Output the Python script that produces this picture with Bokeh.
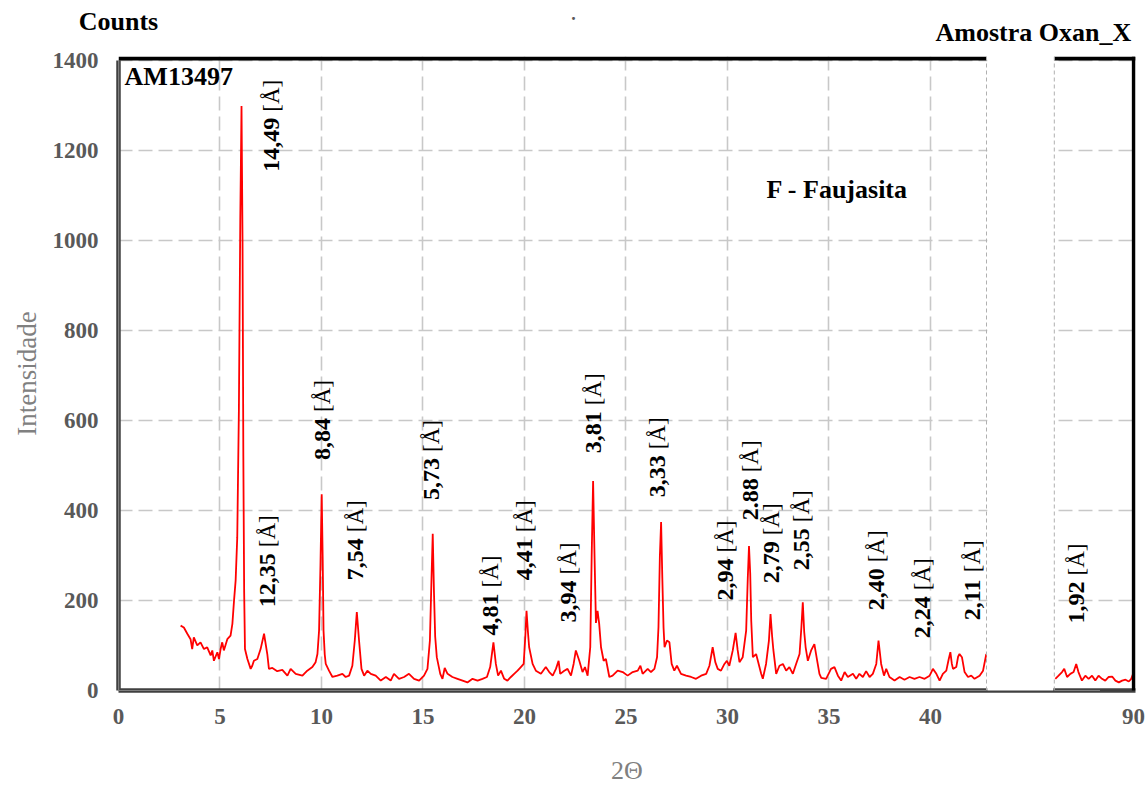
import numpy as np
from bokeh.plotting import figure
from bokeh.models import (Range1d, FixedTicker, BoxAnnotation, Label, ColumnDataSource, Span,
                          LinearAxis)
from bokeh.core.properties import value
from bokeh.embed import file_html
from bokeh.resources import INLINE

FONT = "Liberation Serif"

# ---- data ----
two_theta_low = [3.06, 3.22, 3.39, 3.55, 3.63, 3.71, 3.88, 4.04, 4.21, 4.37, 4.54, 4.62, 4.70, 4.87, 4.95,
                 5.03, 5.11, 5.19, 5.36, 5.52, 5.61, 5.69, 5.77, 5.85, 5.93, 6.00, 6.06, 6.11, 6.15, 6.19,
                 6.23, 6.35, 6.51, 6.59, 6.67, 6.84, 7.00, 7.17, 7.33, 7.41, 7.58, 7.82, 8.07, 8.32, 8.48,
                 8.73, 9.06, 9.30, 9.55, 9.71, 9.80, 9.88, 9.95, 10.01, 10.06, 10.10, 10.16, 10.21, 10.37,
                 10.54, 10.78, 11.03, 11.19, 11.36, 11.52, 11.64, 11.74, 11.85, 11.97, 12.10, 12.26, 12.43,
                 12.67, 12.92, 13.17, 13.41, 13.57, 13.82, 14.07, 14.31, 14.56, 14.81, 15.05, 15.22, 15.34,
                 15.42, 15.48, 15.54, 15.60, 15.68, 15.85, 15.96, 16.07, 16.21, 16.45, 16.70, 16.95, 17.19,
                 17.44, 17.69, 17.93, 18.15, 18.31, 18.47, 18.59, 18.70, 18.84, 19.00, 19.16, 19.33, 19.49,
                 19.66, 19.82, 19.96, 20.04, 20.10, 20.17, 20.23, 20.40, 20.56, 20.81, 21.05, 21.22, 21.39,
                 21.55, 21.68, 21.76, 21.96, 22.12, 22.29, 22.42, 22.53, 22.70, 22.86, 22.98, 23.11, 23.24,
                 23.31, 23.38, 23.45, 23.52, 23.60, 23.68, 23.77, 23.90, 24.01, 24.18, 24.34, 24.59, 24.84,
                 25.08, 25.33, 25.58, 25.71, 25.82, 26.07, 26.23, 26.40, 26.53, 26.60, 26.67, 26.73, 26.79,
                 26.85, 26.90, 27.02, 27.14, 27.25, 27.38, 27.51, 27.71, 27.96, 28.21, 28.45, 28.70, 28.95,
                 29.11, 29.27, 29.40, 29.52, 29.68, 29.85, 29.97, 30.09, 30.26, 30.40, 30.50, 30.59, 30.75,
                 30.92, 31.00, 31.06, 31.12, 31.17, 31.25, 31.41, 31.66, 31.74, 31.90, 32.04, 32.12, 32.20,
                 32.26, 32.40, 32.56, 32.73, 32.89, 33.05, 33.22, 33.38, 33.55, 33.64, 33.71, 33.78, 33.85,
                 33.96, 34.12, 34.28, 34.42, 34.53, 34.62, 34.86, 35.10, 35.27, 35.44, 35.60, 35.77, 35.93,
                 36.18, 36.34, 36.50, 36.67, 36.83, 37.00, 37.16, 37.33, 37.44, 37.57, 37.71, 37.82, 37.98,
                 38.23, 38.48, 38.72, 38.97, 39.21, 39.46, 39.71, 39.96, 40.12, 40.29, 40.45, 40.61, 40.78,
                 40.90, 40.98, 41.05, 41.11, 41.27, 41.36, 41.43, 41.55, 41.68, 41.85, 42.01, 42.17, 42.42,
                 42.59, 42.75]
counts_low = [144, 140, 126, 114, 92, 118, 100, 107, 92, 96, 78, 89, 66, 85, 70,
              92, 107, 89, 114, 122, 148, 199, 244, 340, 620, 1050, 1298, 1000, 520, 220,
              92, 70, 48, 55, 66, 70, 92, 126, 81, 48, 50, 43, 46, 33, 48,
              37, 33, 44, 52, 63, 81, 133, 280, 436, 290, 133, 80, 59, 44,
              30, 33, 37, 30, 33, 55, 111, 174, 111, 48, 33, 44, 37,
              33, 22, 30, 22, 37, 26, 30, 37, 26, 22, 33, 48, 111,
              250, 348, 220, 120, 74, 37, 26, 50, 37, 30, 26, 22, 18,
              26, 22, 26, 30, 52, 107, 59, 33, 44, 26, 22, 30, 37,
              44, 52, 59, 120, 177, 130, 96, 59, 44, 37, 52, 41, 33,
              48, 66, 37, 44, 48, 33, 59, 89, 66, 41, 52, 33, 96,
              300, 465, 300, 150, 177, 148, 96, 66, 70, 30, 33, 44, 41,
              33, 41, 44, 55, 37, 48, 41, 48, 74, 140, 300, 374, 250,
              140, 96, 111, 107, 59, 44, 55, 37, 33, 30, 26, 33, 37,
              55, 96, 63, 48, 44, 59, 66, 55, 89, 128, 90, 63, 74,
              133, 250, 321, 260, 155, 74, 81, 37, 26, 59, 110, 170, 120,
              90, 37, 55, 59, 44, 52, 37, 59, 81, 140, 196, 130, 96,
              66, 89, 103, 66, 37, 28, 26, 48, 52, 33, 22, 41, 30,
              37, 26, 37, 30, 43, 30, 37, 59, 111, 59, 33, 48, 30,
              22, 30, 24, 30, 26, 30, 26, 33, 48, 37, 22, 37, 44,
              70, 85, 60, 48, 52, 75, 81, 74, 41, 30, 33, 26, 33,
              44, 81]

two_theta_high = [86.15, 86.31, 86.48, 86.59, 86.73, 86.89, 87.05, 87.18, 87.29, 87.46, 87.63, 87.79, 87.96,
                  88.12, 88.28, 88.45, 88.61, 88.78, 88.95, 89.11, 89.28, 89.44, 89.61, 89.77, 89.89, 89.99]
counts_high = [26, 33, 41, 48, 30, 37, 41, 59, 41, 22, 33, 26, 33,
               22, 33, 26, 22, 30, 31, 22, 18, 22, 24, 20, 26, 38]

x_ticks = [0, 5, 10, 15, 20, 25, 30, 35, 40]
y_ticks = [0, 200, 400, 600, 800, 1000, 1200, 1400]
high_tick = 90
high_tick_label = "90"

peak_numbers = ["14,49", "12,35", "8,84", "7,54", "5,73", "4,81", "4,41", "3,94", "3,81",
                "3,33", "2,94", "2.88", "2,79", "2,55", "2,40", "2,24", "2,11"]
peak_label_x = [7.54, 7.34, 10.05, 11.67, 15.42, 18.33, 20.0, 22.17, 23.4,
                26.55, 29.9, 31.13, 32.17, 33.65, 37.34, 39.61, 42.07]
peak_label_y = [1152, 185, 512, 245, 423, 122, 245, 151, 527,
                429, 200, 378, 238, 267, 178, 116, 156]
high_peak_numbers = ["1,92"]
high_peak_label_x = [87.18]
high_peak_label_y = [149]

# header texts, placed as labels of top axes (x in main 2-theta units)
header_counts = "Counts"
header_sample = "Amostra Oxan_X"
header_dot = "."
header_counts_x = 0
header_sample_x = 45.07
header_dot_x = 22.41

OFFSET = 40  # hi range = main range + OFFSET

p = figure(width=1146, height=787, output_backend="svg", toolbar_location=None,
           x_range=Range1d(0, 50.1), y_range=Range1d(0, 1408),
           min_border_left=118, min_border_right=11, min_border_top=56, min_border_bottom=97)
p.extra_x_ranges = {"hi": Range1d(OFFSET, 50.1 + OFFSET)}
p.outline_line_color = None
p.background_fill_color = "white"
p.border_fill_color = "white"

for ax in (p.xaxis[0], p.yaxis[0]):
    ax.major_tick_out = 0
    ax.major_tick_in = 0
    ax.minor_tick_out = 0
    ax.minor_tick_in = 0
    ax.axis_line_width = 4.5
    ax.axis_line_color = "#404040"
    ax.major_label_text_font = FONT
    ax.major_label_text_font_style = "bold"
    ax.major_label_text_font_size = "23px"
    ax.major_label_text_color = "#595959"
    ax.axis_label_text_font = FONT
    ax.axis_label_text_font_style = "normal"
    ax.axis_label_text_color = "#808080"

p.xaxis.ticker = FixedTicker(ticks=x_ticks + [high_tick - OFFSET])
p.xaxis.major_label_overrides = {high_tick - OFFSET: high_tick_label}
p.yaxis.ticker = FixedTicker(ticks=y_ticks)
p.yaxis.bounds = (0, 1400)
p.xaxis.major_label_standoff = 18
p.yaxis.major_label_standoff = 20
p.xaxis.axis_label = "2Θ"
p.yaxis.axis_label = "Intensidade"
p.xaxis.axis_label_text_font_size = "26px"
p.yaxis.axis_label_text_font_size = "27px"
p.xaxis.axis_label_standoff = 29
p.yaxis.axis_label_standoff = 8

# top "axes" carrying only the header texts
def header_axis(x, text, standoff, size, color):
    ax = LinearAxis(ticker=FixedTicker(ticks=[x]), major_label_overrides={x: text},
                    axis_line_color=None, major_tick_in=0, major_tick_out=0,
                    minor_tick_in=0, minor_tick_out=0, major_label_standoff=standoff,
                    major_label_text_font=FONT, major_label_text_font_style="bold",
                    major_label_text_font_size=size, major_label_text_color=color)
    p.add_layout(ax, "above")

header_axis(header_sample_x, header_sample, 10, "26px", "black")
header_axis(header_counts_x, header_counts, -21, "26px", "black")
header_axis(header_dot_x, header_dot, -16, "18px", "#595959")

p.xgrid.ticker = FixedTicker(ticks=x_ticks)
p.ygrid.ticker = FixedTicker(ticks=y_ticks)
p.grid.grid_line_color = "#c8c8c8"
p.grid.grid_line_width = 1.6
p.grid.grid_line_dash = "14 6"

# data lines
p.line(two_theta_low, counts_low, line_color="#ff0000", line_width=1.8)
p.line(two_theta_high, counts_high, line_color="#ff0000", line_width=1.8, x_range_name="hi")

# peak labels
def num_width(s, size=24):
    return sum(0.5 if ch.isdigit() else 0.25 for ch in s) * size

def add_peak_labels(xs, ys, nums, rng):
    src = ColumnDataSource(dict(x=xs, y=ys, t=nums,
                                br=["[Å]"] * len(nums),
                                off=[-(num_width(s) + 6) for s in nums]))
    p.text(x="x", y="y", text="t", source=src, angle=np.pi / 2, x_range_name=rng,
           text_font=value(FONT), text_font_style="bold", text_font_size="24px",
           text_align="left", text_baseline="middle", text_color="black")
    p.text(x="x", y="y", text="br", source=src, angle=np.pi / 2, y_offset="off", x_range_name=rng,
           text_font=value(FONT), text_font_style="normal", text_font_size="23px",
           text_align="left", text_baseline="middle", text_color="black")

add_peak_labels(peak_label_x, peak_label_y, peak_numbers, "default")
add_peak_labels(high_peak_label_x, high_peak_label_y, high_peak_numbers, "hi")

# axis break (gap) and frame borders
p.add_layout(BoxAnnotation(left=42.8, right=46.05, top=1420, bottom=-25,
                           fill_color="white", fill_alpha=1, line_color=None))
p.add_layout(BoxAnnotation(left=0, right=42.76, bottom=-1.1, top=1.1,
                           fill_color="#bdbdbd", fill_alpha=1, line_color=None))
p.add_layout(BoxAnnotation(left=46.1, right=48.35, bottom=-1.1, top=1.1,
                           fill_color="#bdbdbd", fill_alpha=1, line_color=None))
p.add_layout(BoxAnnotation(left=-0.03, right=0.03, bottom=0, top=1400,
                           fill_color="#bdbdbd", fill_alpha=1, line_color=None))
for l, r in ((0, 42.76), (46.1, 50.1)):
    p.add_layout(BoxAnnotation(left=l, right=r, bottom=1399, top=1408,
                               fill_color="black", fill_alpha=1, line_color=None))
p.add_layout(BoxAnnotation(left=49.92, right=50.1, bottom=-1, top=1408,
                           fill_color="black", fill_alpha=1, line_color=None))
for xb in (42.76, 46.1):
    p.add_layout(Span(location=xb, dimension="height", line_color="#b0b0b0",
                      line_width=1, line_dash="4 3"))

# texts inside the frame
def lab(x, y, t, size="26px", style="bold", color="black", align="left"):
    p.add_layout(Label(x=x, y=y, text=t, text_font=FONT, text_font_size=size,
                       text_font_style=style, text_color=color, text_align=align,
                       text_baseline="middle"))

lab(0.3, 1363, "AM13497")
lab(31.92, 1112, "F - Faujasita")

open("out.html", "w").write(file_html(p, INLINE))
